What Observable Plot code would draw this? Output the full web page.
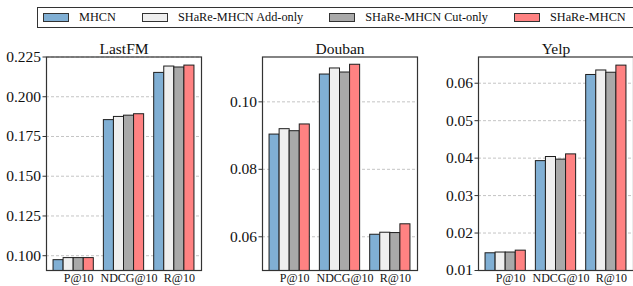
<!DOCTYPE html>
<html>
<head>
<meta charset="utf-8">
<script src="https://cdn.jsdelivr.net/npm/d3@7"></script>
<script src="https://cdn.jsdelivr.net/npm/@observablehq/plot@0.6"></script>
<style>
  html, body { margin: 0; padding: 0; background: #fff; overflow: hidden; }
  #wrap { position: relative; width: 633px; height: 286px; overflow: hidden;
          font-family: "Liberation Serif", "Times New Roman", Tinos, "DejaVu Serif", serif; }
  #wrap svg { position: absolute; top: 0; }
  #legend { position: absolute; left: 37px; top: 7px; width: 640px; height: 21px; border: 1px solid #333;
            box-sizing: border-box; display: flex; align-items: center; padding-left: 5px; gap: 26px; z-index: 2; background: #fff; }
  .item { display: flex; align-items: center; gap: 10px; font-size: 12.3px; color: #111; white-space: nowrap; }
  .sw { width: 26px; height: 9px; border: 1px solid #333; box-sizing: border-box; }
</style>
</head>
<body>
<div id="wrap"><div id="legend"></div></div>
<script>
const datasets = ["LastFM", "Douban", "Yelp"];
const metrics = ["P@10", "NDCG@10", "R@10"];
const methods = ["MHCN", "SHaRe-MHCN Add-only", "SHaRe-MHCN Cut-only", "SHaRe-MHCN"];
const colors = ["#80afd4", "#efefef", "#a9a9a9", "#ff8282"];

// values[metric][method]
const lastfmValues = [
  [0.0972, 0.0985, 0.0985, 0.0985],
  [0.1853, 0.1873, 0.1881, 0.1890],
  [0.2150, 0.2190, 0.2184, 0.2196]
];
const doubanValues = [
  [0.0903, 0.0919, 0.0913, 0.0933],
  [0.1081, 0.1099, 0.1087, 0.1110],
  [0.0606, 0.0612, 0.0611, 0.0637]
];
const yelpValues = [
  [0.0146, 0.0148, 0.0148, 0.0153],
  [0.0392, 0.0403, 0.0396, 0.0410],
  [0.0622, 0.0634, 0.0628, 0.0647]
];

const lastfmTicks = [0.100, 0.125, 0.150, 0.175, 0.200, 0.225];
const doubanTicks = [0.06, 0.08, 0.10];
const yelpTicks = [0.01, 0.02, 0.03, 0.04, 0.05, 0.06];

const yDomains = [[0.0907, 0.225], [0.050, 0.1133], [0.010, 0.067]];
const tickFormats = [".3f", ".2f", ".2f"];
const allValues = [lastfmValues, doubanValues, yelpValues];
const allTicks = [lastfmTicks, doubanTicks, yelpTicks];

const serif = '"Liberation Serif", "Times New Roman", Tinos, "DejaVu Serif", serif';
const wrap = document.getElementById("wrap");

// legend
const legend = document.getElementById("legend");
methods.forEach((m, i) => {
  const it = document.createElement("div");
  it.className = "item";
  const sw = document.createElement("div");
  sw.className = "sw";
  sw.style.background = colors[i];
  const tx = document.createElement("span");
  tx.textContent = m;
  it.appendChild(sw);
  it.appendChild(tx);
  legend.appendChild(it);
});

const groupStep = methods.length + 1;

datasets.forEach((name, di) => {
  const vals = allValues[di];
  const rows = metrics.flatMap((metric, gi) =>
    methods.map((method, mi) => ({metric, method, gi, mi, value: vals[gi][mi]})));
  const chart = Plot.plot({
    width: 216,
    height: 286,
    marginLeft: 46,
    marginRight: 15,
    marginTop: 56.5,
    marginBottom: 16,
    style: {fontFamily: serif, fontSize: "15.5px", background: "transparent", color: "#111", overflow: "visible"},
    x: {type: "linear", domain: [-0.7, groupStep * metrics.length - 0.3], axis: null},
    y: {domain: yDomains[di], axis: null},
    color: {domain: methods, range: colors},
    marks: [
      Plot.gridY(allTicks[di], {stroke: "#b5b5b5", strokeOpacity: 1, strokeWidth: 0.8, strokeDasharray: "3,2"}),
      Plot.rectY(rows, {
        x1: d => d.gi * groupStep + d.mi,
        x2: d => d.gi * groupStep + d.mi + 1,
        y1: 0,
        y2: "value",
        fill: "method",
        stroke: "#1e1e1e",
        strokeWidth: 1,
        clip: true
      }),
      Plot.frame({stroke: "#333", strokeWidth: 1.2}),
      Plot.axisY({ticks: allTicks[di], tickFormat: d3.format(tickFormats[di]), tickSize: 3.5, tickPadding: 2,
                  fontSize: 15.5, stroke: "#333", label: null}),
      Plot.axisX({
        ticks: metrics.map((m, gi) => gi * groupStep + 2.5),
        tickFormat: d => metrics[Math.round((d - 2.5) / groupStep)],
        tickSize: 0, tickPadding: 3, fontSize: 12, label: null
      }),
      Plot.text([name], {frameAnchor: "top", lineAnchor: "bottom", dy: -3, fontSize: 15.5})
    ]
  });
  chart.style.left = (di * 216) + "px";
  wrap.appendChild(chart);
});
</script>
</body>
</html>
